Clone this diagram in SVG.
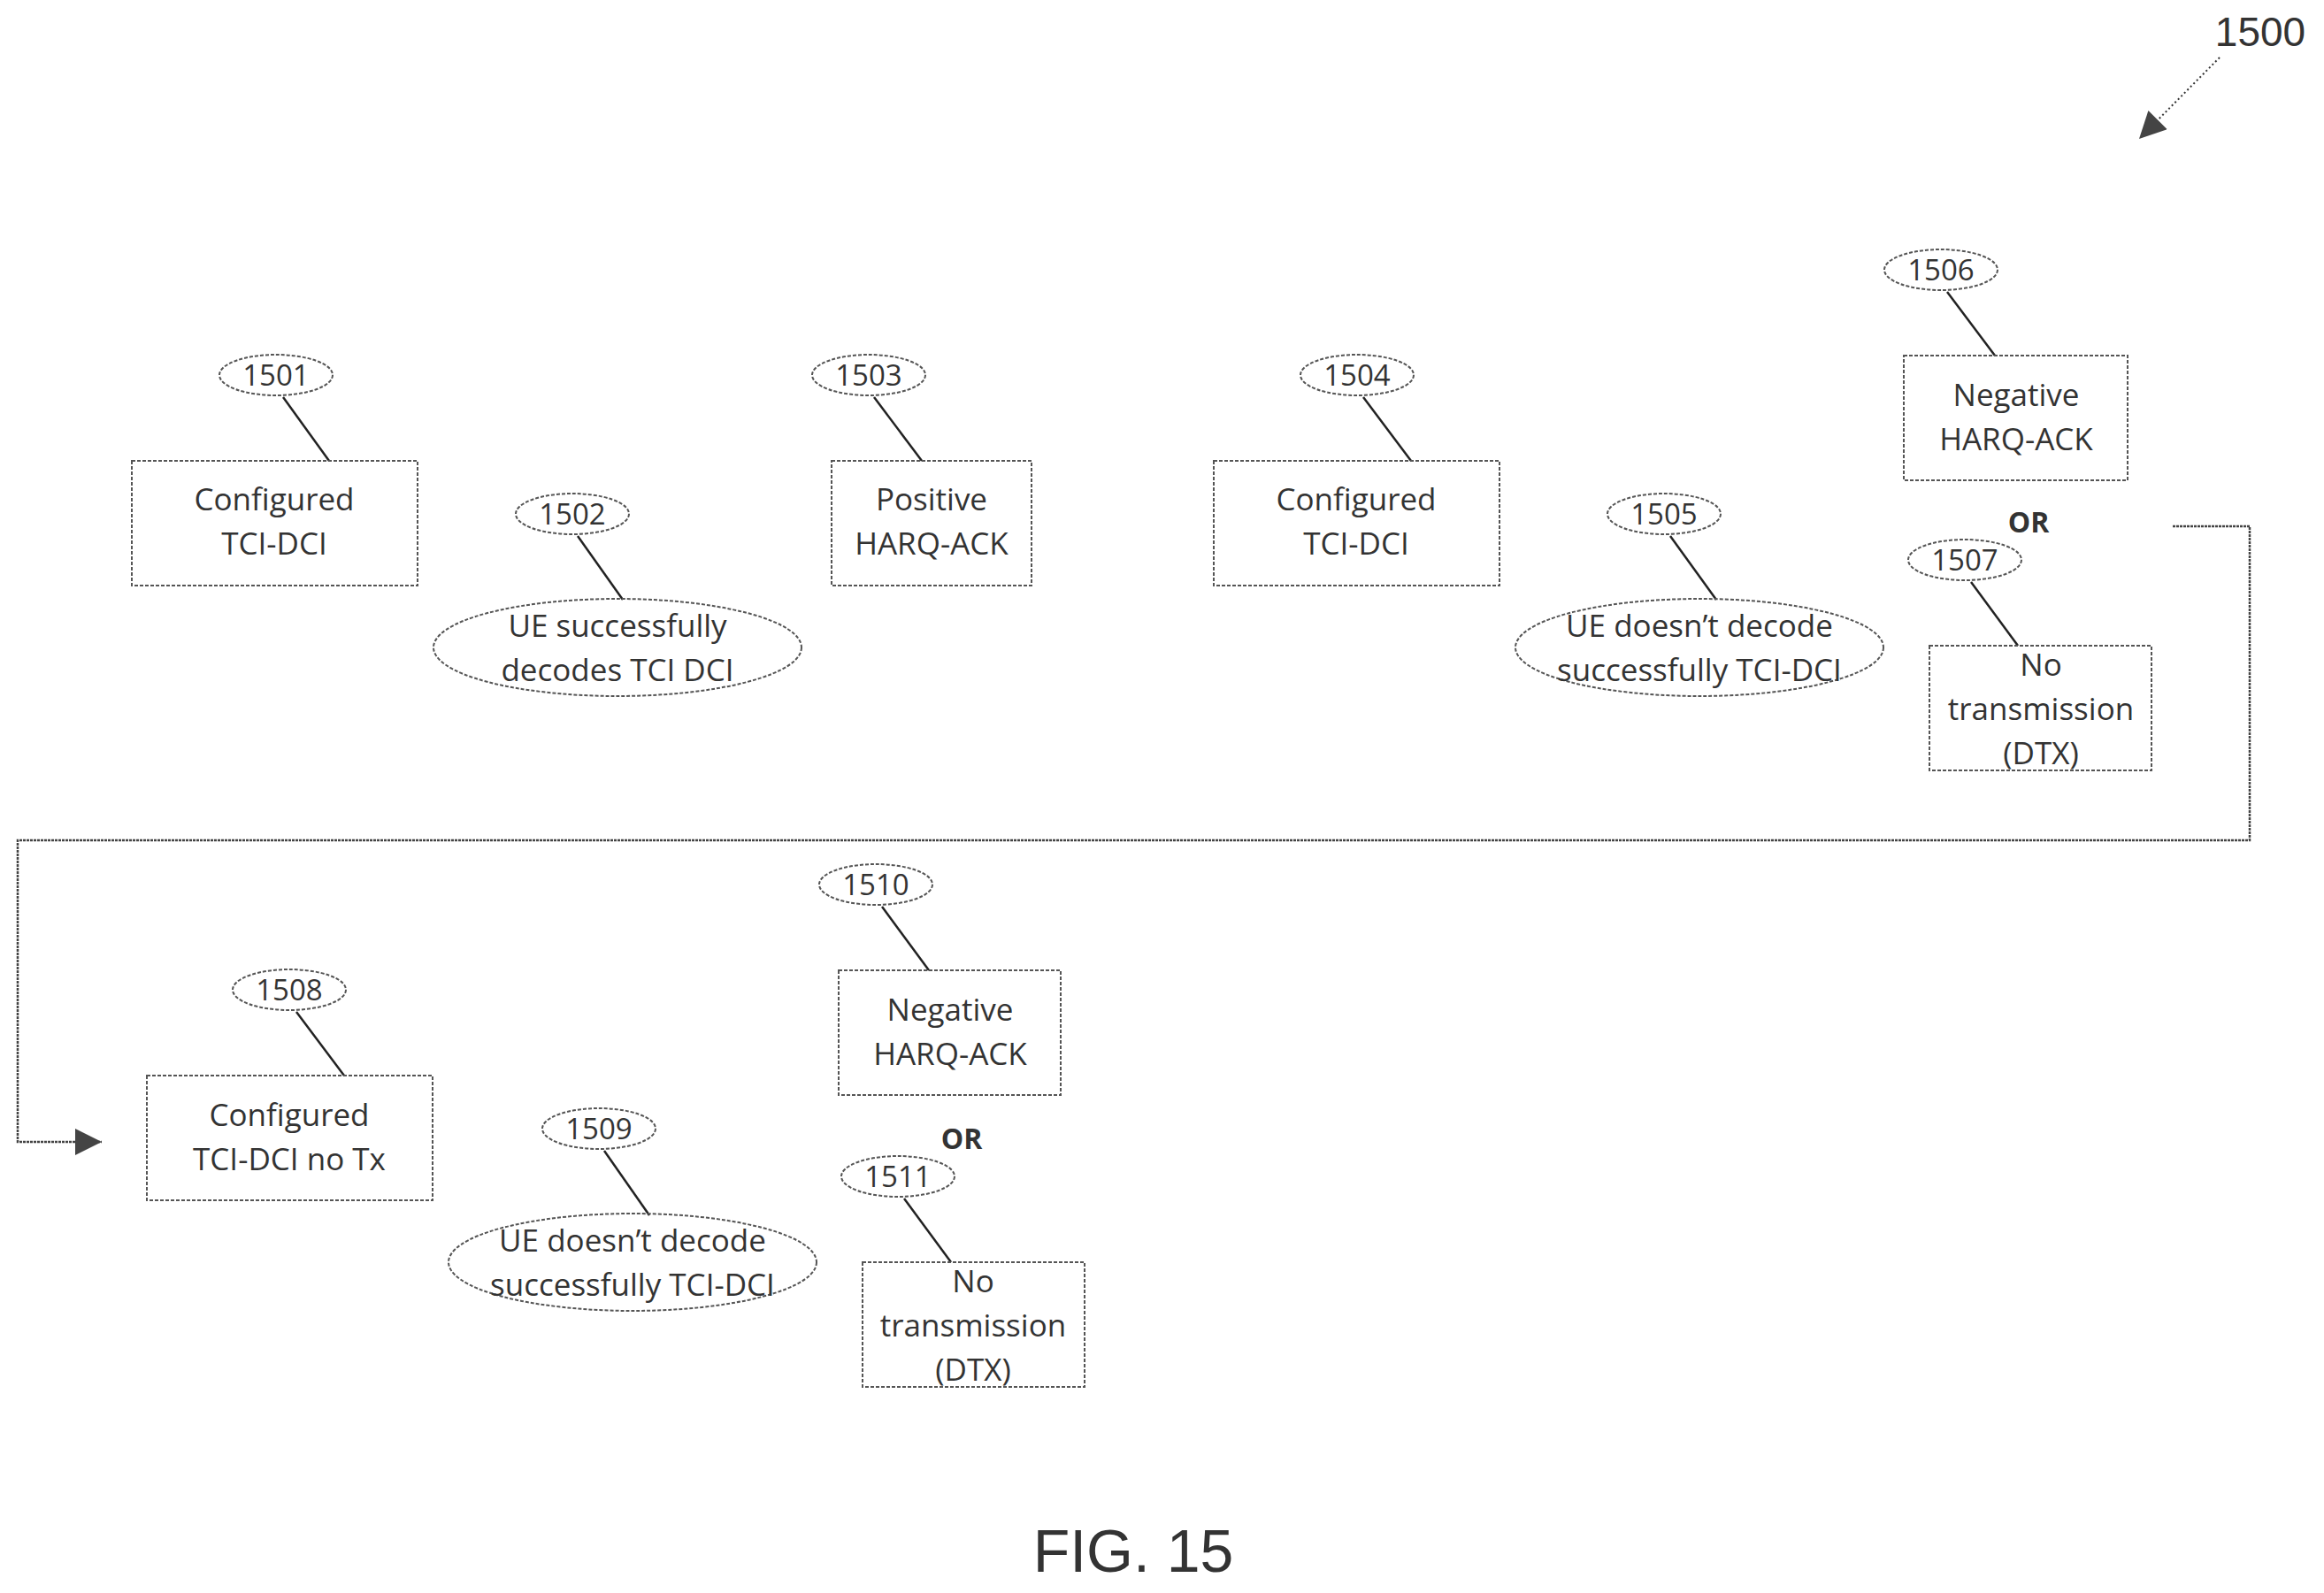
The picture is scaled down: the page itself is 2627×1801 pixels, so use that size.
<svg xmlns="http://www.w3.org/2000/svg" width="2627" height="1801" viewBox="0 0 2627 1801">
<style>
.b{fill:none;stroke:#555;stroke-width:2;stroke-dasharray:4 2}
.l{stroke:#222;stroke-width:2.5}
.t{font-family:"Open Sans",sans-serif;font-size:35px;fill:#333;text-anchor:middle}
.n{font-family:"Open Sans",sans-serif;font-size:33px;fill:#333;text-anchor:middle}
.or{font-family:"Open Sans",sans-serif;font-size:32px;font-weight:bold;fill:#333;text-anchor:middle}
</style>
<defs>
<marker id="a2" viewBox="0 0 10 10" refX="10" refY="5" markerWidth="40" markerHeight="30" markerUnits="userSpaceOnUse" orient="auto"><path d="M0,0L10,5L0,10z" fill="#444"/></marker>
</defs>
<rect width="2627" height="1801" fill="#fff"/>
<g id="ref1500"><text x="2555" y="52" font-family="Liberation Sans,sans-serif" font-size="46" fill="#333" text-anchor="middle">1500</text>
<line x1="2509" y1="65" x2="2418" y2="157" stroke="#333" stroke-width="2" stroke-dasharray="2 3" marker-end="url(#a2)"/></g>
<g id="connectors">
<polyline points="2456,595 2543,595 2543,950 20,950 20,1291 115,1291" fill="none" stroke="#444" stroke-width="2.5" stroke-dasharray="3 1" marker-end="url(#a2)"/>
</g>
<g id="n1501"><ellipse cx="312" cy="424" rx="64" ry="23" class="b"/><text x="312" y="436" class="n">1501</text><line x1="320" y1="449" x2="372" y2="521" class="l"/>
<rect x="149" y="521" width="323" height="141" class="b"/><text x="310" y="577" class="t">Configured</text><text x="310" y="627" class="t">TCI-DCI</text></g>
<g id="n1502"><ellipse cx="647" cy="581" rx="64" ry="23" class="b"/><text x="647" y="593" class="n">1502</text><line x1="653" y1="606" x2="704" y2="678" class="l"/>
<ellipse cx="698" cy="732" rx="208" ry="55" class="b"/><text x="698" y="720" class="t">UE successfully</text><text x="698" y="770" class="t">decodes TCI DCI</text></g>
<g id="n1503"><ellipse cx="982" cy="424" rx="64" ry="23" class="b"/><text x="982" y="436" class="n">1503</text><line x1="988" y1="449" x2="1042" y2="521" class="l"/>
<rect x="940" y="521" width="226" height="141" class="b"/><text x="1053" y="577" class="t">Positive</text><text x="1053" y="627" class="t">HARQ-ACK</text></g>
<g id="n1504"><ellipse cx="1534" cy="424" rx="64" ry="23" class="b"/><text x="1534" y="436" class="n">1504</text><line x1="1541" y1="449" x2="1595" y2="521" class="l"/>
<rect x="1372" y="521" width="323" height="141" class="b"/><text x="1533" y="577" class="t">Configured</text><text x="1533" y="627" class="t">TCI-DCI</text></g>
<g id="n1505"><ellipse cx="1881" cy="581" rx="64" ry="23" class="b"/><text x="1881" y="593" class="n">1505</text><line x1="1888" y1="606" x2="1940" y2="678" class="l"/>
<ellipse cx="1921" cy="732" rx="208" ry="55" class="b"/><text x="1921" y="720" class="t">UE doesn’t decode</text><text x="1921" y="770" class="t">successfully TCI-DCI</text></g>
<g id="n1506"><ellipse cx="2194" cy="305" rx="64" ry="23" class="b"/><text x="2194" y="317" class="n">1506</text><line x1="2201" y1="330" x2="2255" y2="402" class="l"/>
<rect x="2152" y="402" width="253" height="141" class="b"/><text x="2279" y="459" class="t">Negative</text><text x="2279" y="509" class="t">HARQ-ACK</text></g>
<text x="2293" y="602" class="or">OR</text>
<g id="n1507"><ellipse cx="2221" cy="633" rx="64" ry="23" class="b"/><text x="2221" y="645" class="n">1507</text><line x1="2228" y1="658" x2="2281" y2="730" class="l"/>
<rect x="2181" y="730" width="251" height="141" class="b"/><text x="2307" y="764" class="t">No</text><text x="2307" y="814" class="t">transmission</text><text x="2307" y="864" class="t">(DTX)</text></g>
<g id="n1508"><ellipse cx="327" cy="1119" rx="64" ry="23" class="b"/><text x="327" y="1131" class="n">1508</text><line x1="335" y1="1144" x2="389" y2="1216" class="l"/>
<rect x="166" y="1216" width="323" height="141" class="b"/><text x="327" y="1273" class="t">Configured</text><text x="327" y="1323" class="t">TCI-DCI no Tx</text></g>
<g id="n1509"><ellipse cx="677" cy="1276" rx="64" ry="23" class="b"/><text x="677" y="1288" class="n">1509</text><line x1="683" y1="1301" x2="734" y2="1374" class="l"/>
<ellipse cx="715" cy="1427" rx="208" ry="55" class="b"/><text x="715" y="1415" class="t">UE doesn’t decode</text><text x="715" y="1465" class="t">successfully TCI-DCI</text></g>
<g id="n1510"><ellipse cx="990" cy="1000" rx="64" ry="23" class="b"/><text x="990" y="1012" class="n">1510</text><line x1="997" y1="1025" x2="1050" y2="1097" class="l"/>
<rect x="948" y="1097" width="251" height="141" class="b"/><text x="1074" y="1154" class="t">Negative</text><text x="1074" y="1204" class="t">HARQ-ACK</text></g>
<text x="1087" y="1299" class="or">OR</text>
<g id="n1511"><ellipse cx="1015" cy="1330" rx="64" ry="23" class="b"/><text x="1015" y="1342" class="n">1511</text><line x1="1022" y1="1355" x2="1075" y2="1427" class="l"/>
<rect x="975" y="1427" width="251" height="141" class="b"/><text x="1100" y="1461" class="t">No</text><text x="1100" y="1511" class="t">transmission</text><text x="1100" y="1561" class="t">(DTX)</text></g>
<text x="1281" y="1777" font-family="Liberation Sans,sans-serif" font-size="68" fill="#333" text-anchor="middle">FIG. 15</text>
</svg>
